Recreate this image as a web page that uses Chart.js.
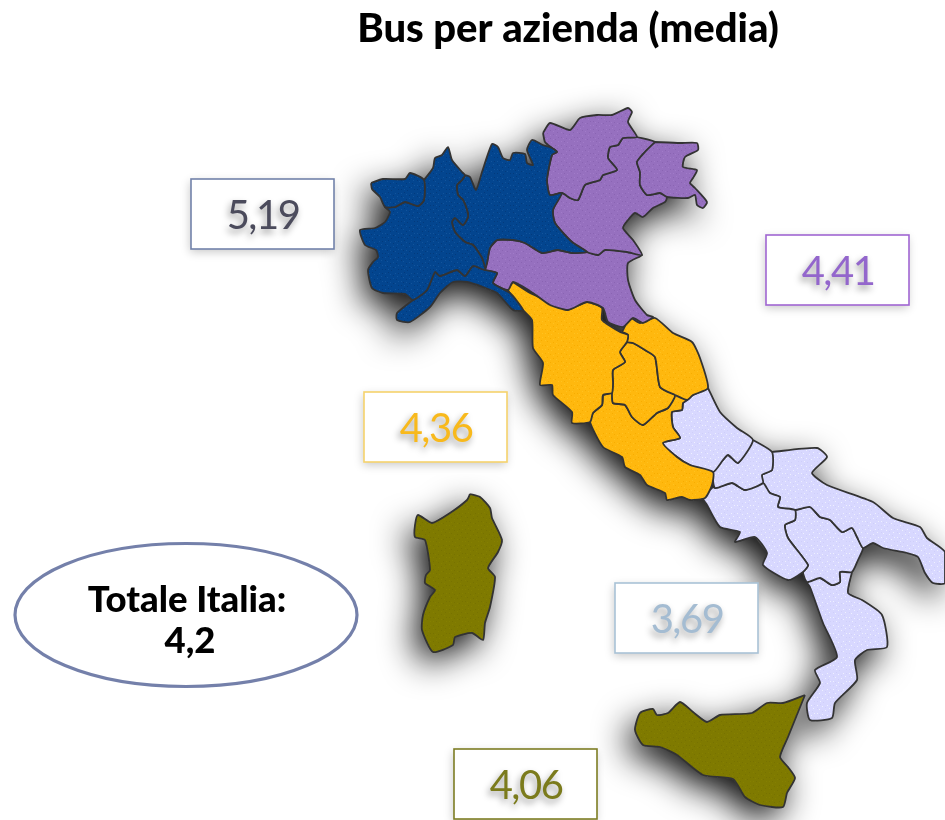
<!DOCTYPE html>
<html>
<head>
<meta charset="utf-8">
<title>Bus per azienda (media)</title>
<script src="https://cdn.jsdelivr.net/npm/chart.js@4"></script>
<style>
  html, body { margin: 0; padding: 0; background: #fff; }
  canvas { display: block; }
</style>
</head>
<body>
<canvas id="mapChart" width="945" height="820"></canvas>
<script>
const titleText = "Bus per azienda (media)";
const areaValues = ["5,19", "4,41", "4,36", "3,69", "4,06"];
const totalLabel = "Totale Italia:";
const totalValue = "4,2";

// region outlines (x, y in picture units)
const valleAosta = [[371,183],[383,179],[405,179],[410,173],[424,180],[424,200],[418,206],[405,202],[395,207],[385,207],[380,197],[372,189]];
const piemonte = [[424,180],[433,168],[435,158],[442,155],[448,147],[452,160],[462,172],[465,175],[462,180],[457,185],[458,195],[463,200],[467,210],[468,217],[463,225],[455,218],[452,222],[455,232],[465,242],[473,245],[482,258],[485,270],[473,266],[465,276],[457,270],[440,276],[435,272],[427,290],[413,300],[405,294],[383,293],[372,288],[368,270],[373,262],[378,257],[376,250],[365,245],[360,230],[375,228],[385,222],[390,212],[385,207],[395,207],[405,202],[418,206],[424,200]];
const liguria = [[485,270],[497,273],[493,283],[510,293],[523,310],[513,310],[497,293],[483,287],[467,282],[453,282],[440,293],[430,307],[410,322],[397,320],[397,313],[413,300],[427,290],[435,272],[440,276],[457,270],[465,276],[473,266]];
const lombardia = [[465,175],[470,177],[476,190],[482,172],[492,144],[498,147],[503,158],[510,160],[513,153],[525,154],[527,163],[533,165],[527,150],[532,140],[543,145],[552,148],[557,152],[552,155],[547,180],[550,195],[562,193],[553,210],[555,223],[572,242],[587,252],[572,253],[558,250],[542,253],[525,243],[513,240],[497,240],[490,248],[487,263],[485,270],[482,258],[473,245],[465,242],[455,232],[452,222],[455,218],[463,225],[468,217],[467,210],[463,200],[458,195],[457,185],[462,180]];
const trentino = [[543,133],[550,123],[570,130],[580,118],[597,115],[612,115],[628,108],[632,112],[628,122],[637,137],[623,138],[618,145],[610,147],[608,158],[617,170],[603,175],[600,180],[585,185],[578,200],[570,198],[562,193],[550,195],[547,180],[552,155],[557,152],[552,148],[545,142]];
const friuli = [[655,142],[680,143],[697,143],[698,150],[685,157],[683,167],[697,170],[693,178],[690,183],[695,188],[707,202],[703,208],[697,205],[695,195],[688,198],[667,197],[660,193],[647,195],[640,185],[640,172],[637,162],[645,152]];
const veneto = [[637,137],[655,142],[645,152],[637,162],[640,172],[640,185],[647,195],[660,193],[667,197],[665,202],[653,208],[643,217],[635,213],[628,220],[623,228],[633,240],[642,255],[627,252],[605,250],[598,255],[587,252],[572,242],[555,223],[553,210],[562,193],[570,198],[578,200],[585,185],[600,180],[603,175],[617,170],[608,158],[610,147],[618,145],[623,138]];
const emilia = [[497,240],[513,240],[525,243],[542,253],[558,250],[572,253],[587,252],[598,255],[605,250],[627,252],[642,255],[628,263],[628,280],[635,300],[647,315],[653,317],[643,323],[633,318],[623,327],[608,322],[603,308],[587,302],[568,310],[550,305],[533,293],[513,282],[508,290],[493,283],[497,273],[485,270],[487,263],[490,248]];
const toscana = [[513,282],[530,293],[552,303],[567,310],[587,302],[602,308],[602,320],[620,332],[628,335],[627,342],[620,352],[625,362],[613,370],[613,383],[612,393],[603,395],[602,405],[593,413],[590,422],[572,423],[572,412],[553,395],[552,385],[540,385],[543,363],[533,348],[532,320],[523,310],[508,290]];
const marche = [[622,332],[630,318],[640,323],[655,318],[673,333],[692,342],[700,358],[708,388],[693,395],[687,400],[675,395],[660,387],[655,357],[645,350],[633,343],[627,342],[628,335]];
const umbria = [[627,342],[633,343],[645,350],[655,357],[660,387],[675,395],[668,408],[657,413],[643,425],[632,417],[625,405],[613,403],[612,393],[613,383],[613,370],[625,362],[620,352]];
const lazio = [[603,395],[612,393],[613,403],[625,405],[632,417],[643,425],[657,413],[668,408],[675,395],[687,400],[683,403],[682,410],[672,412],[673,427],[680,438],[663,443],[677,457],[690,465],[713,472],[712,485],[705,498],[690,500],[682,497],[667,500],[665,493],[647,485],[640,475],[625,467],[622,457],[603,447],[590,422],[593,413],[602,405]];
const abruzzo = [[708,388],[720,412],[737,428],[753,440],[738,463],[728,455],[723,460],[713,472],[690,465],[677,457],[663,443],[680,438],[673,427],[672,412],[682,410],[683,403],[687,400],[693,395]];
const molise = [[753,440],[772,452],[772,470],[762,475],[763,483],[745,490],[732,483],[715,488],[713,472],[723,460],[728,455],[738,463]];
const campania = [[715,488],[732,483],[745,490],[763,483],[770,493],[780,497],[778,507],[795,510],[795,520],[785,525],[788,538],[808,565],[803,572],[788,580],[763,565],[767,553],[755,537],[735,542],[740,532],[720,527],[707,505],[703,498],[713,487]];
const puglia = [[772,452],[817,448],[827,457],[812,473],[827,485],[873,502],[893,518],[920,527],[927,538],[945,552],[945,583],[933,583],[925,573],[918,557],[907,553],[883,548],[873,543],[863,548],[857,537],[852,528],[842,532],[830,520],[820,517],[810,507],[795,510],[778,507],[780,497],[770,493],[763,483],[762,475],[772,470]];
const basilicata = [[795,510],[810,507],[820,517],[830,520],[842,532],[852,528],[857,537],[863,548],[858,560],[852,572],[840,572],[840,582],[832,585],[820,578],[807,582],[803,572],[808,565],[788,538],[785,525],[795,520]];
const calabria = [[852,572],[848,593],[862,600],[882,615],[887,647],[867,650],[855,660],[857,680],[835,703],[832,718],[810,720],[807,703],[820,683],[815,670],[837,657],[823,623],[810,587],[807,582],[820,578],[832,585],[840,582],[840,572]];
const sardegna = [[470,494],[480,497],[490,508],[492,518],[502,540],[498,552],[488,568],[495,577],[490,607],[485,623],[483,640],[472,633],[455,637],[453,645],[433,652],[422,630],[423,615],[430,597],[435,590],[425,583],[426,575],[430,570],[425,540],[415,537],[415,525],[418,515],[432,523],[450,513],[467,500]];
const sicilia = [[805,695],[783,703],[767,703],[752,713],[720,715],[707,722],[693,712],[680,702],[668,713],[657,715],[653,709],[640,713],[635,730],[643,745],[660,747],[677,755],[703,775],[733,779],[745,797],[760,805],[783,807],[787,793],[795,778],[788,767],[780,757],[788,737]];

const northWest = [valleAosta, piemonte, liguria, lombardia];
const northEast = [trentino, friuli, veneto, emilia];
const centre = [toscana, marche, umbria, lazio];
const south = [abruzzo, molise, campania, puglia, basilicata, calabria];
const islands = [sardegna, sicilia];
const allRegions = [northWest, northEast, centre, south, islands];

const areaColors = ["#03458f", "#9670bf", "#ffb80e", "#d8d8ff", "#7f7a00"];
const dotColors = [["#12549c", "#033a7c"], ["#8a64b3", "#a17bc9"], ["#f7ad00", "#ffc21f"], ["#eef0ff", "#cfcffa"], ["#777200", "#858000"]];
const dotsA = [[1,1],[6,2],[11,1],[3,5],[9,6],[13,4],[1,9],[6,10],[11,11],[4,13],[14,9]];
const dotsB = [[4,0],[9,3],[14,1],[1,4],[6,7],[12,7],[3,10],[9,11],[14,13],[1,13],[7,14]];

function stipple(base, dots) {
  const tile = document.createElement("canvas");
  tile.width = tile.height = 16;
  const t = tile.getContext("2d");
  t.fillStyle = base;
  t.fillRect(0, 0, 16, 16);
  t.fillStyle = dots[0];
  dotsA.forEach((d) => t.fillRect(d[0], d[1], 1, 1));
  t.fillStyle = dots[1];
  dotsB.forEach((d) => t.fillRect(d[0], d[1], 1, 1));
  return t.createPattern(tile, "repeat");
}

function toPoints(outline) {
  return outline.concat([outline[0]]).map((p) => ({ x: p[0], y: p[1] }));
}

const datasets = [];
allRegions.forEach((group, i) => {
  const pattern = stipple(areaColors[i], dotColors[i]);
  group.forEach((outline) => {
    datasets.push({
      data: toPoints(outline),
      showLine: true,
      tension: 0.2,
      fill: "shape",
      backgroundColor: pattern,
      borderColor: "#333",
      borderWidth: 1.8,
      pointRadius: 0,
      clip: false,
    });
  });
});
// light speckle along the borders
allRegions.forEach((group) => {
  group.forEach((outline) => {
    datasets.push({
      data: toPoints(outline),
      showLine: true,
      tension: 0.2,
      fill: false,
      borderColor: "rgba(255,255,255,0.7)",
      borderWidth: 0.8,
      borderDash: [1, 4],
      pointRadius: 0,
      clip: false,
    });
  });
});

// one shadow under the whole map, so it does not fall on neighbouring regions
const mapShadow = {
  id: "mapShadow",
  beforeDatasetsDraw(chart) {
    const { ctx, scales } = chart;
    ctx.save();
    ctx.shadowColor = "rgba(0,0,0,0.95)";
    ctx.shadowBlur = 34;
    ctx.shadowOffsetX = -8;
    ctx.shadowOffsetY = 12;
    ctx.fillStyle = "#555";
    ctx.beginPath();
    allRegions.flat().forEach((outline) => {
      outline.forEach((p, i) => {
        const x = scales.x.getPixelForValue(p[0]);
        const y = scales.y.getPixelForValue(p[1]);
        if (i === 0) ctx.moveTo(x, y);
        else ctx.lineTo(x, y);
      });
      ctx.closePath();
    });
    ctx.fill();
    ctx.restore();
  },
};

const boxLeft = [191, 766, 364, 615, 454];
const boxTop = [179, 235, 392, 583, 749];
const boxBorder = ["#7282aa", "#a066d2", "#f6d36c", "#a9c2d6", "#7d7d24"];
const boxText = ["#4b4b5c", "#9366cc", "#f8b91c", "#a4bcd2", "#7b7b1c"];

const valueBoxes = {
  id: "valueBoxes",
  afterDatasetsDraw(chart) {
    const { ctx, scales } = chart;
    const px = (v) => scales.x.getPixelForValue(v);
    const py = (v) => scales.y.getPixelForValue(v);
    ctx.save();
    areaValues.forEach((value, i) => {
      const x = px(boxLeft[i]);
      const y = py(boxTop[i]);
      ctx.save();
      ctx.shadowColor = "rgba(0,0,0,0.22)";
      ctx.shadowBlur = 9;
      ctx.shadowOffsetX = -1;
      ctx.shadowOffsetY = 3;
      ctx.fillStyle = "#fff";
      ctx.fillRect(x, y, 143, 70);
      ctx.restore();
      ctx.strokeStyle = boxBorder[i];
      ctx.lineWidth = 1.6;
      ctx.strokeRect(x, y, 143, 70);
      ctx.save();
      ctx.shadowColor = "rgba(0,0,0,0.4)";
      ctx.shadowBlur = 7;
      ctx.shadowOffsetX = -2;
      ctx.shadowOffsetY = 4;
      ctx.fillStyle = boxText[i];
      ctx.font = "40px Lato";
      ctx.letterSpacing = "-1.5px";
      ctx.textAlign = "center";
      ctx.textBaseline = "middle";
      ctx.fillText(value, x + 72, y + 37);
      ctx.restore();
    });

    // total oval
    ctx.strokeStyle = "#7480aa";
    ctx.lineWidth = 3.2;
    ctx.fillStyle = "#fff";
    ctx.beginPath();
    ctx.ellipse(px(186), py(615), 171, 71.5, 0, 0, Math.PI * 2);
    ctx.fill();
    ctx.stroke();
    ctx.fillStyle = "#000";
    ctx.font = "900 36.5px Lato";
    ctx.textAlign = "center";
    ctx.textBaseline = "middle";
    ctx.fillText(totalLabel, px(187), py(600));
    ctx.fillText(totalValue, px(190), py(641));
    ctx.restore();
  },
};

new Chart(document.getElementById("mapChart"), {
  type: "scatter",
  data: { datasets },
  plugins: [mapShadow, valueBoxes],
  options: {
    responsive: false,
    animation: false,
    events: [],
    layout: { padding: { left: 191 } },
    scales: {
      x: { type: "linear", display: false, min: 191, max: 945 },
      y: { type: "linear", display: false, reverse: true, min: 60, max: 820 },
    },
    plugins: {
      legend: { display: false },
      tooltip: { enabled: false },
      title: {
        display: true,
        text: titleText,
        color: "#000",
        font: { family: "Lato", size: 40, weight: "900", lineHeight: 1.2 },
        padding: { top: 5, bottom: 7 },
      },
    },
  },
});
</script>
</body>
</html>
